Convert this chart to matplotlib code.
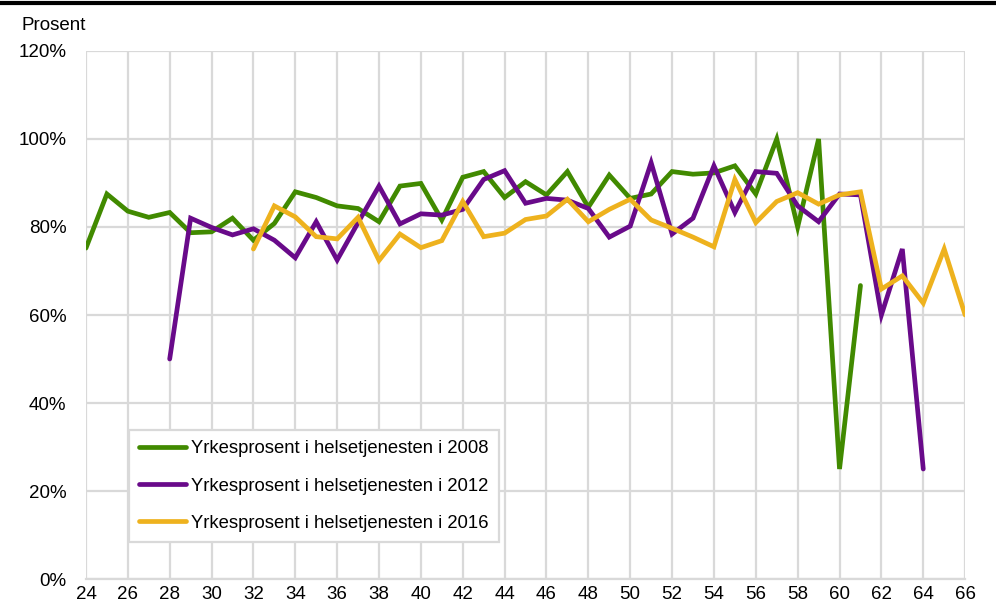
import numpy as np
import matplotlib as mpl
mpl.use('Agg')
import matplotlib.pyplot as plt
from matplotlib.lines import Line2D
from matplotlib.ticker import FuncFormatter

plt.rcParams['font.family'] = ['Liberation Sans', 'DejaVu Sans']

# age on x axis, share in percent
age_2008 = list(range(24, 62))
val_2008 = [75.2, 87.5, 83.6, 82.2, 83.3, 78.7, 78.9, 82.0, 77.0, 80.8,
            88.0, 86.7, 84.8, 84.2, 81.2, 89.3, 89.9, 81.6, 91.3, 92.6,
            86.7, 90.3, 87.3, 92.6, 84.5, 91.8, 86.5, 87.5, 92.6, 92.0,
            92.3, 93.9, 87.5, 100.0, 80.0, 100.0, 25.0, 66.7]

age_2012 = list(range(28, 65))
val_2012 = [50.0, 82.0, 79.9, 78.2, 79.6, 77.0, 73.0, 81.2, 72.5, 81.0,
            89.3, 80.7, 83.0, 82.7, 84.0, 90.8, 92.8, 85.4, 86.5, 86.1,
            84.2, 77.7, 80.2, 94.6, 78.4, 82.0, 93.9, 83.3, 92.6, 92.2,
            84.8, 81.2, 87.5, 87.3, 60.0, 75.0, 25.0]

age_2016 = list(range(32, 67))
val_2016 = [75.0, 84.8, 82.3, 77.8, 77.3, 82.2, 72.4, 78.4, 75.3, 76.9,
            85.8, 77.8, 78.6, 81.7, 82.5, 86.3, 81.2, 84.0, 86.3, 81.6,
            79.7, 77.7, 75.5, 90.8, 81.0, 85.8, 87.8, 85.2, 87.3, 88.0,
            65.9, 68.9, 62.7, 75.0, 60.0]

labels = ['Yrkesprosent i helsetjenesten i 2008',
          'Yrkesprosent i helsetjenesten i 2012',
          'Yrkesprosent i helsetjenesten i 2016']
colors = ['#418a00', '#690a8a', '#eeb21e']

fig = plt.figure(figsize=(9.96, 6.07), dpi=100)
ax = fig.add_axes([0.0863, 0.0461, 0.8827, 0.8699])

series = [(age_2008, val_2008), (age_2012, val_2012), (age_2016, val_2016)]
for (x, y), lab, c in zip(series, labels, colors):
    ax.plot(x, y, color=c, lw=3.4, label=lab, solid_capstyle='round', solid_joinstyle='miter', zorder=3)

ax.set_xlim(24, 66)
ax.set_ylim(0, 120)
ax.set_xticks(np.arange(24, 67, 2))
ax.set_yticks(np.arange(0, 121, 20))
ax.yaxis.set_major_formatter(FuncFormatter(lambda v, p: '%d%%' % v))
ax.grid(True, color='#d9d9d9', lw=1.6, zorder=0)
ax.tick_params(length=0, labelsize=13.5, colors='black')
ax.tick_params(axis='y', pad=14)
ax.tick_params(axis='x', pad=5)
for s in ax.spines.values():
    s.set_visible(False)
ax.spines['bottom'].set_visible(True)
ax.spines['bottom'].set_color('#d9d9d9')
ax.spines['bottom'].set_linewidth(1.6)

leg = ax.legend(loc='lower left', bbox_to_anchor=(0.049, 0.070), fontsize=13.3,
                frameon=True, fancybox=False, edgecolor='#d9d9d9', framealpha=1,
                handlelength=2.55, handletextpad=0.27, labelspacing=1.1,
                borderpad=0.55, borderaxespad=0)
leg.get_frame().set_linewidth(1.6)

fig.text(0.022, 0.958, 'Prosent', fontsize=13.5, ha='left', va='center')
fig.add_artist(Line2D([0, 1], [0.995, 0.995], color='black', lw=3, transform=fig.transFigure))

plt.savefig('out.png', dpi=100)
